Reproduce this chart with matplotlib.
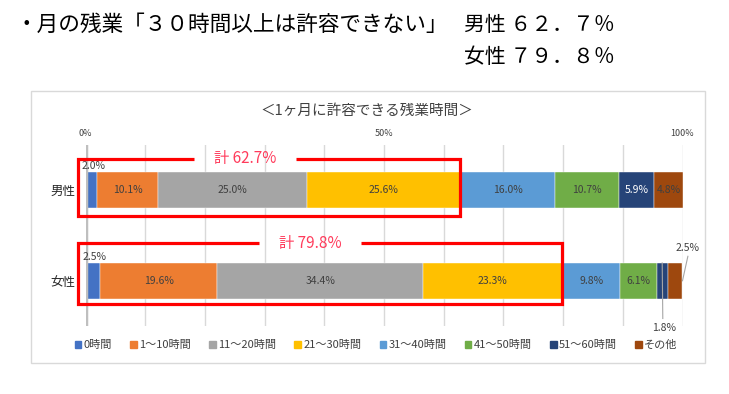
import numpy as np
import matplotlib
matplotlib.use("Agg")
import matplotlib.pyplot as plt
from matplotlib.patches import Rectangle

plt.rcParams['font.family'] = ['Noto Sans CJK JP', 'DejaVu Sans']

# データ
categories = ["男性", "女性"]
series_names = ["0時間", "1～10時間", "11～20時間", "21～30時間",
                "31～40時間", "41～50時間", "51～60時間", "その他"]
male = [2.0, 10.1, 25.0, 25.6, 16.0, 10.7, 5.9, 4.8]
female = [2.5, 19.6, 34.4, 23.3, 9.8, 6.1, 1.8, 2.5]
over30_total = [62.7, 79.8]
colors = ["#4472C4", "#ED7D31", "#A5A5A5", "#FFC000",
          "#5B9BD5", "#70AD47", "#264478", "#9E480E"]
x_ticks = [0, 50, 100]

W, H = 729, 394
fig = plt.figure(figsize=(W / 100, H / 100), dpi=100)


def fx(x):
    return x / W


def fy(y):
    return 1 - y / H


def zen(s):
    # 半角数字 -> 全角
    return s.translate(str.maketrans("0123456789.%", "０１２３４５６７８９．％"))


# 見出し
fig.text(fx(15), fy(25), "・月の残業「３０時間以上は許容できない」", fontsize=15.6,
         ha="left", va="center", color="black")
fig.text(fx(464), fy(25), "男性 " + zen(f"{over30_total[0]:.1f}%"), fontsize=15,
         ha="left", va="center", color="black")
fig.text(fx(464), fy(57), "女性 " + zen(f"{over30_total[1]:.1f}%"), fontsize=15,
         ha="left", va="center", color="black")

# グラフ枠
fig.patches.append(Rectangle((fx(31), fy(363)), fx(705) - fx(31), fy(91) - fy(363),
                             transform=fig.transFigure, fill=False,
                             edgecolor="#D9D9D9", lw=1))
fig.text(fx(367), fy(111), "＜1ヶ月に許容できる残業時間＞", fontsize=10.5,
         ha="center", va="center", color="#404040")

ax = fig.add_axes([fx(85.5), fy(326), fx(682.5) - fx(85.5), fy(145) - fy(326)])
ax.set_xlim(0, 100)
ax.set_ylim(0, 1)
for s in ax.spines.values():
    s.set_visible(False)

ax.set_xticks(np.arange(0, 101, 10))
ax.set_xticklabels([f"{t}%" if t in x_ticks else "" for t in range(0, 101, 10)],
                   fontsize=6.5, color="#404040")
ax.xaxis.tick_top()
ax.tick_params(axis="x", length=0, pad=5)
ax.grid(axis="x", color="#D9D9D9", lw=1)
ax.axvline(0, color="#BFBFBF", lw=2.5, zorder=3)

ypos = [0.75, 0.25]
bh = 0.197
ax.set_yticks(ypos)
ax.set_yticklabels(categories, fontsize=9, color="#262626")
ax.tick_params(axis="y", length=0, pad=7.5)

data = [male, female]
for yi, vals in zip(ypos, data):
    left = 0
    for i, v in enumerate(vals):
        ax.barh(yi, v, left=left, height=bh, color=colors[i], zorder=2,
                edgecolor="white", lw=0.3)
        left += v

# ラベル
for row, (yi, vals) in enumerate(zip(ypos, data)):
    lefts = np.concatenate([[0], np.cumsum(vals)[:-1]])
    for i, v in enumerate(vals):
        cx = lefts[i] + v / 2
        txt = f"{v:.1f}%"
        tc = "white" if i == 6 else "#404040"
        if i == 0:
            ax.text(cx + 0.3, yi + bh / 2 + 0.035, txt, fontsize=7.5, ha="center",
                    va="center", color="#404040")
        elif row == 1 and i == 6:
            ax.plot([cx, cx + 0.1], [yi + bh / 2, yi - bh / 2 - 0.11],
                    color="#A6A6A6", lw=0.8, zorder=4, clip_on=False)
            ax.text(cx + 0.3, yi - bh / 2 - 0.165, txt, fontsize=7.5, ha="center",
                    va="center", color="#404040")
        elif row == 1 and i == 7:
            ax.plot([lefts[i] + v, lefts[i] + v + 0.9], [yi, yi + 0.135],
                    color="#A6A6A6", lw=0.8, zorder=4, clip_on=False)
            ax.text(lefts[i] + v + 0.9, yi + 0.18, txt, fontsize=7.5, ha="center",
                    va="center", color="#404040")
        else:
            ax.text(cx, yi, txt, fontsize=7.5, ha="center", va="center", color=tc,
                    zorder=5)

# 30時間以上の枠（上辺はラベル部分を空ける）
box_y = [(0.609, 0.923), (0.122, 0.456)]
label_x = [26.7, 37.6]
gap = 8.6
x_left = -1.2
for tot, (y0, y1), lx in zip(over30_total, box_y, label_x):
    xs = [lx + gap, tot, tot, x_left, x_left, lx - gap]
    ys = [y1, y1, y0, y0, y1, y1]
    ax.plot(xs, ys, color="#FF0000", lw=2.3, zorder=6, clip_on=False,
            solid_joinstyle="miter", solid_capstyle="butt")
    ax.text(lx, y1, f"計 {tot:.1f}%", fontsize=11, ha="center", va="center",
            color="#FF3B5B", zorder=7)

# 凡例
handles = [Rectangle((0, 0), 1, 1, color=c) for c in colors]
fig.legend(handles, series_names, loc="center", bbox_to_anchor=(fx(376), fy(345)),
           ncol=8, frameon=False, fontsize=8, handlelength=0.6, handleheight=0.6,
           handletextpad=0.2, columnspacing=1.65, labelcolor="#404040")

fig.savefig("out.png", dpi=100)
